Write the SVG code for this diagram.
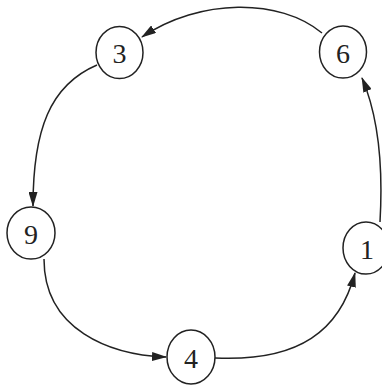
<svg xmlns="http://www.w3.org/2000/svg" width="382" height="385" viewBox="0 0 382 385">
<style>
.n ellipse{fill:#fff;stroke:#222;stroke-width:1.5}
.n text{font-family:"Liberation Serif",serif;font-size:28px;fill:#222;text-anchor:middle;dominant-baseline:central}
.e path{fill:none;stroke:#222;stroke-width:1.5;marker-end:url(#a)}
</style>
<defs>
<marker id="a" viewBox="0 0 15 9" refX="14" refY="4.5" markerWidth="15" markerHeight="9" markerUnits="userSpaceOnUse" orient="auto">
<path d="M0,0 L15,4.5 L0,9 Z" fill="#222"/>
</marker>
</defs>
<rect width="382" height="385" fill="#fff"/>
<g class="e">
<path d="M322,33 C280,-2 200,-2 142,37"/>
<path d="M97,65 C50,85 33,130 33,206"/>
<path d="M44,259 C44,330 110,355 166,357"/>
<path d="M215,358 C300,362 340,330 355,273"/>
<path d="M380,222 C383,170 380,120 362,78"/>
</g>
<g id="n3" class="n"><ellipse cx="119.5" cy="52.5" rx="23.5" ry="26"/><text x="119.5" y="53">3</text></g>
<g id="n6" class="n"><ellipse cx="343" cy="52" rx="23.5" ry="26"/><text x="343" y="53">6</text></g>
<g id="n9" class="n"><ellipse cx="31" cy="233" rx="24" ry="26"/><text x="31" y="234">9</text></g>
<g id="n1" class="n"><ellipse cx="366" cy="248" rx="23" ry="26"/><text x="367" y="249">1</text></g>
<g id="n4" class="n"><ellipse cx="191" cy="357" rx="24" ry="27"/><text x="191" y="358">4</text></g>
</svg>
